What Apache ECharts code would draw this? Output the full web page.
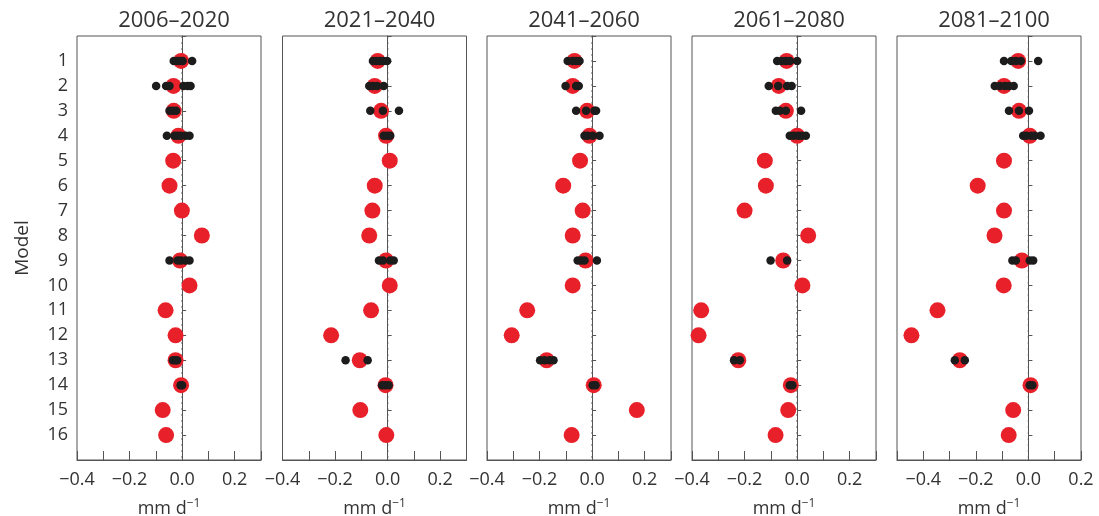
<!DOCTYPE html>
<html>
<head>
<meta charset="utf-8">
<script src="https://cdn.jsdelivr.net/npm/echarts@6/dist/echarts.min.js"></script>
<style>html,body{margin:0;padding:0;background:#fff}#c{width:1099px;height:516px}</style>
</head>
<body>
<div id="c"></div>
<script>
const models = ['1','2','3','4','5','6','7','8','9','10','11','12','13','14','15','16'];
const periods = ['2006–2020','2021–2040','2041–2060','2061–2080','2081–2100'];
const xTickLabels = ['−0.4','−0.2','0.0','0.2'];
const xTickValues = [-0.4,-0.2,0.0,0.2];
const xRanges = [[-0.4,0.3],[-0.4,0.3],[-0.4,0.3],[-0.4,0.3],[-0.5,0.2]];

// multi-model (red) values per period
const red2006 = [-0.004,-0.033,-0.032,-0.014,-0.034,-0.048,-0.001,0.075,-0.008,0.028,-0.063,-0.025,-0.025,-0.004,-0.074,-0.061];
const red2021 = [-0.038,-0.049,-0.025,-0.006,0.008,-0.049,-0.058,-0.070,-0.006,0.008,-0.063,-0.215,-0.106,-0.008,-0.104,-0.005];
const red2041 = [-0.067,-0.074,-0.019,-0.010,-0.046,-0.110,-0.036,-0.074,-0.025,-0.074,-0.247,-0.306,-0.173,0.006,0.170,-0.078];
const red2061 = [-0.040,-0.070,-0.043,0.000,-0.123,-0.119,-0.200,0.042,-0.053,0.020,-0.365,-0.375,-0.224,-0.024,-0.034,-0.082];
const red2081 = [-0.039,-0.093,-0.036,0.005,-0.093,-0.193,-0.093,-0.129,-0.025,-0.094,-0.346,-0.445,-0.261,0.008,-0.058,-0.075];

// ensemble members (black) per model, per period
const blk2006 = [[-0.032,-0.02,-0.01,0.002,0.038],[-0.099,-0.061,-0.048,0.005,0.021,0.032],[-0.048,-0.036,-0.023],[-0.058,-0.029,-0.017,-0.004,0.013,0.028],[],[],[],[],[-0.048,-0.017,-0.004,0.013,0.028],[],[],[],[-0.035,-0.025,-0.019],[-0.006,0.0],[],[]];
const blk2021 = [[-0.056,-0.043,-0.030,-0.017,-0.002],[-0.070,-0.056,-0.040,-0.015],[-0.066,-0.018,0.043],[-0.015,-0.002,0.010],[],[],[],[],[-0.033,-0.018,0.010,0.023],[],[],[],[-0.160,-0.076],[-0.021,-0.009,0.004],[],[]];
const blk2041 = [[-0.093,-0.074,-0.061,-0.048],[-0.101,-0.061,-0.051],[-0.061,-0.023,0.009,0.015],[-0.029,-0.017,0.002,0.028],[],[],[],[],[-0.055,-0.042,-0.029,0.018],[],[],[],[-0.198,-0.181,-0.162,-0.147],[0.002,0.013],[],[]];
const blk2061 = [[-0.076,-0.059,-0.043,-0.028,0.0],[-0.108,-0.072,-0.038,-0.021],[-0.081,-0.066,-0.043,0.015],[-0.028,-0.013,0.004,0.017,0.033],[],[],[],[],[-0.101,-0.038],[],[],[],[-0.240,-0.218],[-0.028,-0.018],[],[]];
const blk2081 = [[-0.093,-0.065,-0.048,-0.029,0.037],[-0.128,-0.109,-0.090,-0.074,-0.056],[-0.074,-0.036,0.002],[-0.020,-0.008,0.011,0.024,0.046],[],[],[],[],[-0.061,-0.048,0.005,0.018],[],[],[],[-0.280,-0.242],[0.005,0.015],[],[]];

const reds = [red2006, red2021, red2041, red2061, red2081];
const blks = [blk2006, blk2021, blk2041, blk2061, blk2081];

const FONT = 'Open Sans';
const TXT = '#333';
const lefts = [77, 282.5, 487, 692, 897];
const W = 184, TOP = 36, H = 424;

const grids = [], xAxes = [], yAxes = [], series = [], titles = [];
periods.forEach((p, i) => {
  grids.push({left: lefts[i], top: TOP, width: W, height: H, show: true, borderColor: '#555', borderWidth: 1,
    containLabel: false, outerBoundsMode: 'none'});
  titles.push({text: p, left: lefts[i] + W / 2, top: 5, textAlign: 'center',
    textStyle: {fontFamily: FONT, fontSize: 22, fontWeight: 'normal', color: TXT}});
  xAxes.push({
    type: 'value', gridIndex: i, min: xRanges[i][0], max: xRanges[i][1], interval: 0.1,
    axisLine: {show: true, onZero: false, lineStyle: {color: '#555', width: 1}},
    axisTick: {show: true, inside: true, length: 9, lineStyle: {color: '#555'}},
    splitLine: {show: false},
    axisLabel: {show: true, showMinLabel: true, showMaxLabel: true, margin: 11,
      fontFamily: FONT, fontSize: 18, color: TXT,
      formatter: v => { const k = xTickValues.findIndex(t => Math.abs(t - v) < 1e-6); return k >= 0 ? xTickLabels[k] : ''; }},
    name: 'mm d{s|−1}', nameLocation: 'middle', nameGap: 38,
    nameTextStyle: {fontFamily: FONT, fontSize: 18, color: TXT,
      rich: {s: {fontFamily: FONT, fontSize: 12, color: TXT, verticalAlign: 'top', padding: [0, 0, 10, 0]}}}
  });
  yAxes.push({
    type: 'value', gridIndex: i, min: 0, max: models.length + 1, interval: 1, inverse: true,
    axisLine: {show: true, lineStyle: {color: '#555', width: 1}},
    axisTick: {show: true, inside: true, length: 4, lineStyle: {color: '#555'}},
    splitLine: {show: false},
    axisLabel: {show: i === 0, margin: 9, fontFamily: FONT, fontSize: 18, color: TXT,
      formatter: v => (v >= 1 && v <= models.length) ? models[v - 1] : ''},
    name: i === 0 ? 'Model' : '', nameLocation: 'middle', nameGap: 45, nameRotate: 90,
    nameTextStyle: {fontFamily: FONT, fontSize: 19, color: TXT}
  });
  // zero reference line
  series.push({
    type: 'line', xAxisIndex: i, yAxisIndex: i, symbol: 'none', silent: true, z: 1,
    lineStyle: {type: [2, 4], color: '#555', width: 1.2},
    data: [[0, 0], [0, models.length + 1]]
  });
  series.push({
    type: 'scatter', xAxisIndex: i, yAxisIndex: i, symbolSize: 16, z: 2,
    itemStyle: {color: '#e8202a', opacity: 1},
    data: reds[i].map((v, k) => [v, k + 1])
  });
  const bd = [];
  blks[i].forEach((arr, k) => arr.forEach(v => bd.push([v, k + 1])));
  series.push({
    type: 'scatter', xAxisIndex: i, yAxisIndex: i, symbolSize: 8.5, z: 3,
    itemStyle: {color: '#1c1c1c', opacity: 1},
    data: bd
  });
});

const chart = echarts.init(document.getElementById('c'), null, {renderer: 'canvas'});
chart.setOption({
  animation: false,
  backgroundColor: '#fff',
  title: titles, grid: grids, xAxis: xAxes, yAxis: yAxes, series: series
});
</script>
</body>
</html>
